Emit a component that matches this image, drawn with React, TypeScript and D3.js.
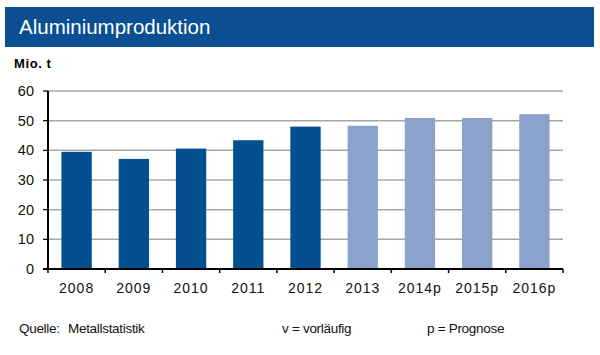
import React from "react";
import * as d3 from "d3";

const categories = ["2008", "2009", "2010", "2011", "2012", "2013", "2014p", "2015p", "2016p"];
const values = [39.5, 37.1, 40.6, 43.4, 48.0, 48.3, 50.9, 50.9, 52.2];
const isForecast = [false, false, false, false, false, true, true, true, true];
const yTicks = [0, 10, 20, 30, 40, 50, 60];

const W = 600, H = 355;
const left = 48, right = 563, top = 91, bottom = 269;

export default function App() {
  const x = d3.scaleBand<string>().domain(categories).range([left, right]).paddingInner(0.47).paddingOuter(0.235);
  const y = d3.scaleLinear().domain([0, 60]).range([bottom, top]);
  const font = "'Liberation Sans', Arial, sans-serif";
  const step = x.step();
  return (
    <svg width={W} height={H} style={{ position: "absolute", left: 0, top: 0, background: "#fff" }} fontFamily={font}>
      <rect x={5} y={7} width={589} height={40} fill="#0a4f92" />
      <text x={19} y={34} fill="#fff" fontSize={20.5}>Aluminiumproduktion</text>
      <text x={14} y={68} fontSize={13} fontWeight="bold" letterSpacing={0.6}>Mio. t</text>
      {yTicks.map((t) => (
        <g key={t}>
          {t > 0 && <line x1={left} x2={right} y1={y(t)} y2={y(t)} stroke="#a8a8a8" strokeWidth={1.5} />}
          <line x1={left - 5} x2={left} y1={y(t)} y2={y(t)} stroke="#000" strokeWidth={1.2} />
          <text x={34} y={y(t)} dy="0.35em" textAnchor="end" fontSize={14.5} fill="#111">{t}</text>
        </g>
      ))}
      {categories.map((c, i) => (
        <rect key={c} x={x(c)} y={y(values[i])} width={x.bandwidth()} height={bottom - y(values[i])}
          fill={isForecast[i] ? "#8ba2cc" : "#034f90"} />
      ))}
      <line x1={left} x2={left} y1={top} y2={bottom + 1} stroke="#000" strokeWidth={2} />
      <line x1={left - 5} x2={right} y1={bottom} y2={bottom} stroke="#000" strokeWidth={2} />
      {d3.range(categories.length + 1).map((i) => (
        <line key={i} x1={left + i * step} x2={left + i * step} y1={bottom} y2={bottom + 4} stroke="#000" strokeWidth={1.5} />
      ))}
      {categories.map((c) => (
        <text key={c} x={(x(c) as number) + x.bandwidth() / 2} y={293} textAnchor="middle" fontSize={14} letterSpacing={1} fill="#111">{c}</text>
      ))}
      <text x={19} y={333} fontSize={13.5} fill="#111" letterSpacing={-0.3}>Quelle:</text>
      <text x={68} y={333} fontSize={13.5} fill="#111" letterSpacing={-0.3}>Metallstatistik</text>
      <text x={282} y={333} fontSize={13.5} fill="#111" letterSpacing={-0.3}>v = vorläufig</text>
      <text x={427} y={333} fontSize={13.5} fill="#111" letterSpacing={-0.3}>p = Prognose</text>
    </svg>
  );
}
